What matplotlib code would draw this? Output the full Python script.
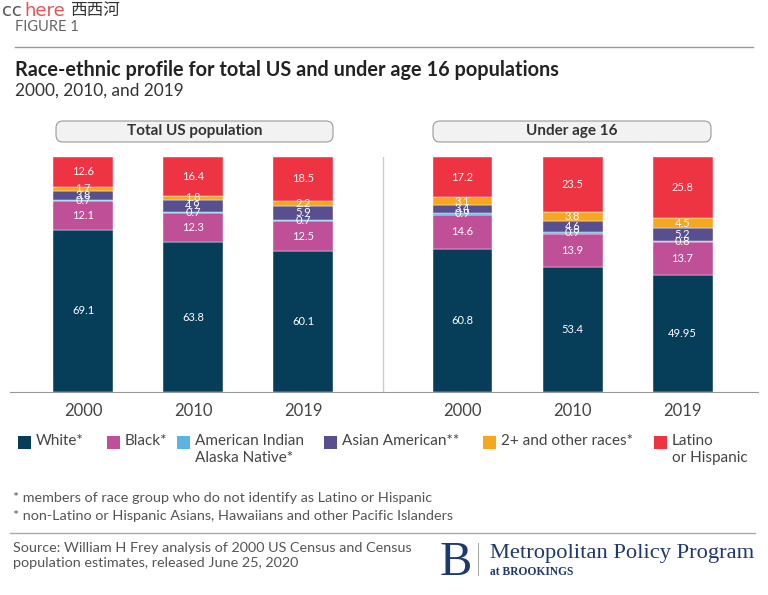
import matplotlib.pyplot as plt
from matplotlib.patches import FancyBboxPatch, Rectangle
import numpy as np

plt.rcParams['font.family'] = ['Lato', 'DejaVu Sans']

years = ['2000', '2010', '2019', '2000', '2010', '2019']
groups = ['Total US population', 'Under age 16']
races = ['White*', 'Black*', 'American Indian\nAlaska Native*', 'Asian American**',
         '2+ and other races*', 'Latino\nor Hispanic']
white = [69.1, 63.8, 60.1, 60.8, 53.4, 49.95]
black = [12.1, 12.3, 12.5, 14.6, 13.9, 13.7]
amind = [0.7, 0.7, 0.7, 0.9, 0.9, 0.8]
asian = [3.8, 4.9, 5.9, 3.4, 4.6, 5.2]
other = [1.7, 1.8, 2.2, 3.1, 3.8, 4.5]
latino = [12.6, 16.4, 18.5, 17.2, 23.5, 25.8]
colors = ['#063e5a', '#bf4f96', '#5bb4e3', '#574f8e', '#f5a81f', '#ee3342']

W, H = 768, 595
fig = plt.figure(figsize=(W / 100, H / 100), dpi=100)

def fy(y):
    return 1 - y / H

# watermark
fig.text(2 / W, fy(11), 'cc', color='#555555', fontsize=13, va='center', family='DejaVu Sans')
fig.text(24 / W, fy(11), 'here', color='#e8505b', fontsize=13, va='center', family='DejaVu Sans')
fig.text(70 / W, fy(11), '西西河', color='#333333', fontsize=12, va='center',
         family=['Noto Sans CJK SC', 'DejaVu Sans'])
fig.text(15 / W, fy(27), 'FIGURE 1', color='#666666', fontsize=10.5, va='center')
fig.add_artist(plt.Line2D([15 / W, 753 / W], [fy(47), fy(47)], color='#999999', lw=1))

fig.text(15 / W, fy(70), 'Race-ethnic profile for total US and under age 16 populations',
         fontsize=14.3, fontweight='bold', color='#222222', va='center')
fig.text(15 / W, fy(91), '2000, 2010, and 2019', fontsize=12.4, color='#333333', va='center')

# main axes
ax = fig.add_axes([10 / W, fy(392), 748 / W, 235 / H])
x = np.array([0, 1, 2, 3.45, 4.45, 5.45])
bw = 0.545
series = [white, black, amind, asian, other, latino]
bottom = np.zeros(6)
for vals, c in zip(series, colors):
    vals = np.array(vals)
    ax.bar(x, vals, bw, bottom=bottom, color=c, edgecolor='white', linewidth=0.3)
    for xi, b, v in zip(x, bottom, vals):
        ax.text(xi, b + v / 2, f'{v:g}', ha='center', va='center', color='white', fontsize=8)
    bottom += vals

ax.set_xlim(-0.6636, 6.136)
ax.set_ylim(0, 100)
ax.axvline(2.727, color='#cccccc', lw=1)
for s in ['top', 'right', 'left']:
    ax.spines[s].set_visible(False)
ax.spines['bottom'].set_color('#999999')
ax.set_yticks([])
ax.set_xticks(x)
ax.set_xticklabels(years, fontsize=12, color='#444444')
ax.tick_params(axis='x', length=0, pad=8)

# group header boxes
for gname, x0, x1 in [(groups[0], 56, 333), (groups[1], 433, 711)]:
    box = FancyBboxPatch((x0 / 100, (H - 142) / 100), (x1 - x0) / 100, 0.21,
                         boxstyle='round,pad=0,rounding_size=0.07',
                         transform=fig.dpi_scale_trans, facecolor='#f2f2f2',
                         edgecolor='#999999', lw=0.8)
    fig.add_artist(box)
    fig.text((x0 + x1) / 2 / W, fy(131.5), gname, ha='center', va='center',
             fontsize=11, fontweight='bold', color='#333333')

# legend
leg_sq = [18, 107, 177, 324, 483, 654]
for xs, lab, c in zip(leg_sq, races, colors):
    fig.add_artist(Rectangle((xs / W, fy(449)), 13 / W, 13 / H, transform=fig.transFigure,
                             facecolor=c, edgecolor='none'))
    fig.text((xs + 18) / W, fy(434), lab, fontsize=11, color='#444444', va='top',
             linespacing=1.3)

fig.text(13 / W, fy(498), '* members of race group who do not identify as Latino or Hispanic',
         fontsize=10.4, color='#555555', va='center')
fig.text(13 / W, fy(516), '* non-Latino or Hispanic Asians, Hawaiians and other Pacific Islanders',
         fontsize=10.4, color='#555555', va='center')
fig.add_artist(plt.Line2D([10 / W, 755 / W], [fy(533), fy(533)], color='#aaaaaa', lw=1))
fig.text(13 / W, fy(542), 'Source: William H Frey analysis of 2000 US Census and Census\n'
         'population estimates, released June 25, 2020',
         fontsize=10.4, color='#555555', va='top', linespacing=1.3)

# Brookings logo
fig.text(440 / W, fy(575), 'B', family='Liberation Serif', fontsize=35, color='#1e3a6b',
         va='baseline')
fig.add_artist(plt.Line2D([478 / W, 478 / W], [fy(543), fy(575)], color='#aaaaaa', lw=0.8))
fig.text(490 / W, fy(558), 'Metropolitan Policy Program', family='Liberation Serif',
         fontsize=16.2, color='#1e3a6b', va='baseline')
fig.text(490 / W, fy(575), 'at BROOKINGS', family='Liberation Serif', fontsize=8.3,
         fontweight='bold', color='#1e3a6b', va='baseline')

fig.savefig('out.png', dpi=100)
